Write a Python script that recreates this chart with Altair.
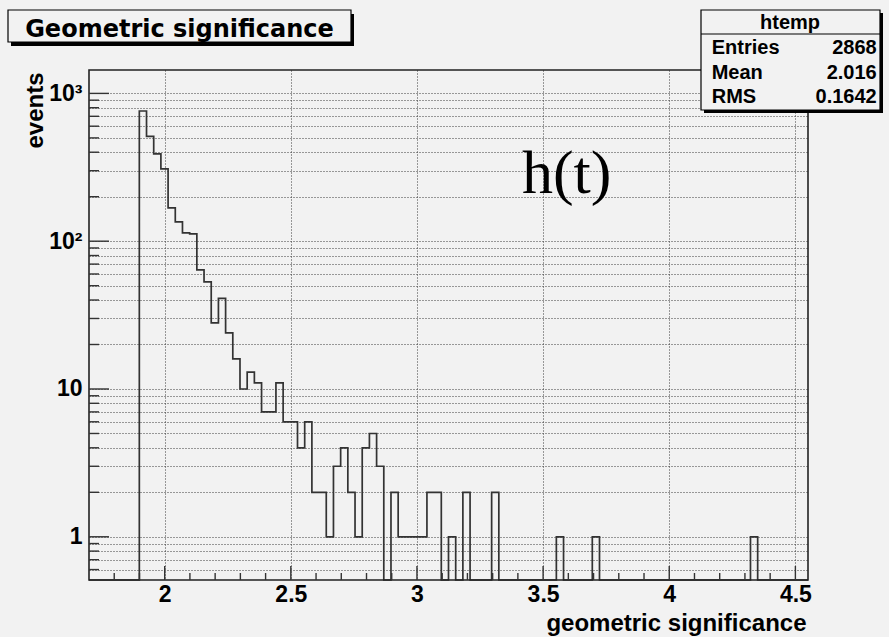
import altair as alt
import pandas as pd

# Histogram binning: 100 equal bins between X_MIN and X_MAX
X_MIN, X_MAX, N_BINS = 1.7, 4.55, 100
Y_MIN, Y_MAX = 0.51, 1440

# Events per bin
counts = [
    0, 0, 0, 0, 0, 0, 0, 760, 512, 390,
    309, 168, 135, 114, 112, 64, 53, 28, 41, 24,
    16, 10, 13, 11, 7, 7, 11, 6, 6, 4,
    6, 2, 2, 1, 3, 4, 2, 1, 4, 5,
    3, 0, 2, 1, 1, 1, 1, 2, 2, 0,
    1, 0, 2, 0, 0, 0, 2, 0, 0, 0,
    0, 0, 0, 0, 0, 1, 0, 0, 0, 0,
    1, 0, 0, 0, 0, 0, 0, 0, 0, 0,
    0, 0, 0, 0, 0, 0, 0, 0, 0, 0,
    0, 0, 1, 0, 0, 0, 0, 0, 0, 0,
]

# Axis ticks
x_major = [2, 2.5, 3, 3.5, 4, 4.5]
x_minor = [1.8, 1.9, 2.1, 2.2, 2.3, 2.4, 2.6, 2.7, 2.8, 2.9,
           3.1, 3.2, 3.3, 3.4, 3.6, 3.7, 3.8, 3.9, 4.1, 4.2, 4.3, 4.4]
y_major = [1, 10, 100, 1000]
y_minor = [0.6, 0.7, 0.8, 0.9,
           2, 3, 4, 5, 6, 7, 8, 9,
           20, 30, 40, 50, 60, 70, 80, 90,
           200, 300, 400, 500, 600, 700, 800, 900]

# Text
title_text = "Geometric significance"
stats_name = "htemp"
stats_labels = ["Entries", "Mean", "RMS"]
stats_values = ["2868", "2.016", "0.1642"]
note_text = "h(t)"

W, H = 719, 510
BG = "#f2f2f2"
INK = "#333333"
GRID = "#3c3c3c"
BOLD = "Liberation Sans"

bin_w = (X_MAX - X_MIN) / N_BINS
edges = [X_MIN + k * bin_w for k in range(N_BINS + 1)]
hist = pd.DataFrame({"edge": edges, "events": counts + [counts[-1]]})
# empty bins sit on the lower edge of the log axis
hist["shown"] = hist["events"].clip(lower=Y_MIN)

x_scale = alt.Scale(domain=[X_MIN, X_MAX], nice=False, zero=False)
y_scale = alt.Scale(type="log", domain=[Y_MIN, Y_MAX], nice=False)

y_label_expr = (
    "datum.value == 1000 ? '10\u00b3' : datum.value == 100 ? '10\u00b2' : "
    "datum.value == 10 ? '10' : datum.value == 1 ? '1' : ''"
)

x_axis = alt.Axis(
    values=x_major, format="~g", grid=True, gridDash=[1, 2], gridColor=GRID,
    gridWidth=1, ticks=False, tickSize=0, domain=False, labelFlush=False,
    labelFont=BOLD, labelFontWeight="bold", labelFontSize=23, labelColor="black",
    labelPadding=3, title="geometric significance", titleFont=BOLD,
    titleFontWeight="bold", titleFontSize=24, titleColor="black",
    titleAlign="right", titleBaseline="alphabetic", titleX=717, titleY=50,
)
y_axis = alt.Axis(
    values=y_minor + y_major, labelExpr=y_label_expr, grid=True, gridDash=[1, 2],
    gridColor=GRID, gridWidth=1, ticks=False, tickSize=0, domain=False,
    labelOverlap=False, labelFlush=False,
    labelFont=BOLD, labelFontWeight="bold", labelFontSize=23, labelColor="black",
    labelPadding=7, title="events", titleFont=BOLD, titleFontWeight="bold",
    titleFontSize=24, titleColor="black", titleAngle=270, titleAlign="right",
    titleBaseline="alphabetic", titleX=-47, titleY=2,
)

one = alt.Data(values=[{}])

# plot frame
frame = alt.Chart(one).mark_rect(fillOpacity=0, stroke="#222222", strokeWidth=1.6).encode(
    x=alt.value(0), x2=alt.value(W), y=alt.value(0), y2=alt.value(H)
)

# histogram outline
line = alt.Chart(hist).mark_line(
    interpolate="step-after", color=INK, strokeWidth=1.7
).encode(
    x=alt.X("edge:Q", scale=x_scale, axis=x_axis),
    y=alt.Y("shown:Q", scale=y_scale, axis=y_axis),
)

# inward tick marks
def x_ticks(vals, length):
    return alt.Chart(pd.DataFrame({"edge": vals})).mark_rule(
        color=INK, strokeWidth=1.4
    ).encode(
        x=alt.X("edge:Q", scale=x_scale, axis=x_axis),
        y=alt.value(H), y2=alt.value(H - length),
    )

def y_ticks(vals, length):
    return alt.Chart(pd.DataFrame({"shown": vals})).mark_rule(
        color=INK, strokeWidth=1.4
    ).encode(
        y=alt.Y("shown:Q", scale=y_scale, axis=y_axis),
        x=alt.value(0), x2=alt.value(length),
    )

ticks = [x_ticks(x_major, 14), x_ticks(x_minor, 7), y_ticks(y_major, 20), y_ticks(y_minor, 10)]

# title box with drop shadow
title_shadow = alt.Chart(one).mark_rect(fill="black").encode(
    x=alt.value(-78), x2=alt.value(265), y=alt.value(-56), y2=alt.value(-24)
)
title_box = alt.Chart(one).mark_rect(fill=BG, stroke="black", strokeWidth=1.2).encode(
    x=alt.value(-81), x2=alt.value(262), y=alt.value(-60), y2=alt.value(-28)
)
title_label = alt.Chart(pd.DataFrame({"t": [title_text]})).mark_text(
    font="DejaVu Sans", fontWeight="bold", fontSize=24, color="black",
    align="center", baseline="alphabetic"
).encode(text="t:N", x=alt.value(90.5), y=alt.value(-33))

# statistics box
stats_shadow = alt.Chart(one).mark_rect(fill="black").encode(
    x=alt.value(615), x2=alt.value(794), y=alt.value(-57), y2=alt.value(43)
)
stats_box = alt.Chart(one).mark_rect(fill=BG, stroke="black", strokeWidth=1.2).encode(
    x=alt.value(612), x2=alt.value(791), y=alt.value(-60), y2=alt.value(40)
)
stats_rule = alt.Chart(one).mark_rule(color="black", strokeWidth=1.2).encode(
    x=alt.value(612), x2=alt.value(791), y=alt.value(-36)
)
stats_head = alt.Chart(pd.DataFrame({"t": [stats_name]})).mark_text(
    font=BOLD, fontWeight="bold", fontSize=20, color="black",
    align="center", baseline="alphabetic"
).encode(text="t:N", x=alt.value(701), y=alt.value(-41))

stats_rows = []
for i, (lab, val) in enumerate(zip(stats_labels, stats_values)):
    base_y = -15.7 + i * 24.5
    stats_rows.append(
        alt.Chart(pd.DataFrame({"t": [lab]})).mark_text(
            font=BOLD, fontWeight="bold", fontSize=20, color="black",
            align="left", baseline="alphabetic"
        ).encode(text="t:N", x=alt.value(622.7), y=alt.value(base_y))
    )
    stats_rows.append(
        alt.Chart(pd.DataFrame({"t": [val]})).mark_text(
            font=BOLD, fontWeight="bold", fontSize=20, color="black",
            align="right", baseline="alphabetic"
        ).encode(text="t:N", x=alt.value(787.7), y=alt.value(base_y))
    )

note = alt.Chart(pd.DataFrame({"t": [note_text]})).mark_text(
    font="Liberation Serif", fontSize=62, color="black",
    align="center", baseline="alphabetic"
).encode(text="t:N", x=alt.value(477.7), y=alt.value(123))

chart = alt.layer(
    line, frame, *ticks,
    title_shadow, title_box, title_label,
    stats_shadow, stats_box, stats_rule, stats_head, *stats_rows,
    note,
).properties(
    width=W, height=H,
    autosize=alt.AutoSizeParams(type="none"),
    padding={"left": 89, "top": 70, "right": 81, "bottom": 57},
    background=BG,
).configure_view(
    stroke=None, fill=BG
)

chart.save("out.html", embed_options={"renderer": "svg", "actions": False})
